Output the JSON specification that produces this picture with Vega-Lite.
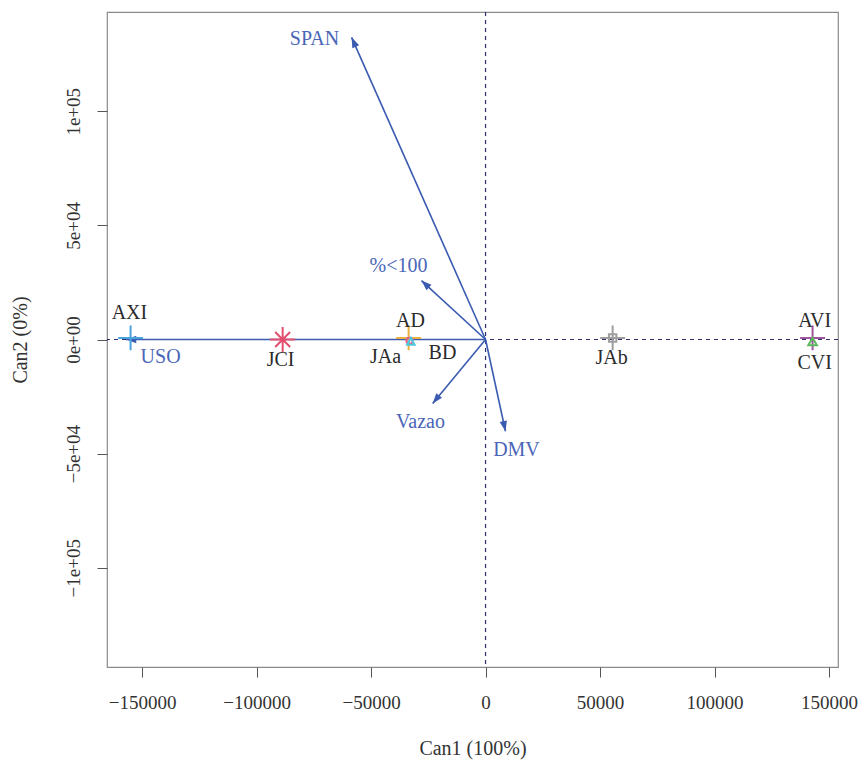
{
  "$schema": "https://vega.github.io/schema/vega-lite/v6.json",
  "width": 731,
  "height": 655,
  "autosize": {"type": "none"},
  "padding": {"left": 107, "top": 12, "right": 20, "bottom": 100},
  "background": "white",
  "config": {
    "font": "Liberation Serif",
    "view": {"stroke": "#8a8a8a", "strokeWidth": 1.2}
  },
  "datasets": {
    "arrows": [
      {"var": "SPAN", "x0": 0, "y0": 0, "x": -58500, "y": 132400},
      {"var": "%<100", "x0": 0, "y0": 0, "x": -28000, "y": 25800},
      {"var": "Vazao", "x0": 0, "y0": 0, "x": -23100, "y": -28000},
      {"var": "DMV", "x0": 0, "y0": 0, "x": 8700, "y": -40200},
      {"var": "USO", "x0": 0, "y0": 0, "x": -157000, "y": 0}
    ],
    "points": [
      {"label": "AXI", "x": -155000, "y": 700},
      {"label": "JCI", "x": -88600, "y": 0},
      {"label": "AD", "x": -33600, "y": 700},
      {"label": "JAa", "x": -33200, "y": -600},
      {"label": "BD", "x": -32600, "y": -900},
      {"label": "JAb", "x": 55500, "y": 700},
      {"label": "AVI", "x": 142800, "y": 700},
      {"label": "CVI", "x": 142800, "y": -1200}
    ],
    "labels": [
      {"text": "AXI", "x": -155500, "y": 11400, "kind": "group"},
      {"text": "USO", "x": -141900, "y": -7500, "kind": "variable"},
      {"text": "JCI", "x": -89500, "y": -9200, "kind": "group"},
      {"text": "AD", "x": -32800, "y": 8300, "kind": "group"},
      {"text": "JAa", "x": -43700, "y": -7500, "kind": "group"},
      {"text": "BD", "x": -18800, "y": -6100, "kind": "group"},
      {"text": "JAb", "x": 55000, "y": -8300, "kind": "group"},
      {"text": "AVI", "x": 143700, "y": 8300, "kind": "group"},
      {"text": "CVI", "x": 143700, "y": -10100, "kind": "group"},
      {"text": "SPAN", "x": -74700, "y": 131600, "kind": "variable"},
      {"text": "%<100", "x": -38000, "y": 32000, "kind": "variable"},
      {"text": "Vazao", "x": -28400, "y": -36000, "kind": "variable"},
      {"text": "DMV", "x": 13500, "y": -48200, "kind": "variable"}
    ]
  },
  "resolve": {"scale": {"color": "independent", "shape": "independent"}},
  "layer": [
    {
      "data": {"values": [{"v": 0}]},
      "mark": {"type": "rule", "color": "#2c2f6e", "strokeDash": [4, 4], "strokeWidth": 1.2},
      "encoding": {
        "x": {
          "field": "v",
          "type": "quantitative",
          "scale": {"domain": [-165300, 153900], "nice": false, "zero": false},
          "axis": {
            "title": "Can1 (100%)",
            "values": [-150000, -100000, -50000, 0, 50000, 100000, 150000],
            "format": "d",
            "grid": false,
            "domain": false,
            "tickSize": 10,
            "tickColor": "#555",
            "labelColor": "#333",
            "labelFontSize": 19,
            "labelPadding": 16,
            "labelOverlap": false,
            "labelFont": "Liberation Serif",
            "titleFont": "Liberation Serif",
            "titleFontSize": 20,
            "titleFontWeight": "normal",
            "titleColor": "#333",
            "titlePadding": 26
          }
        }
      }
    },
    {
      "data": {"values": [{"v": 0}]},
      "mark": {"type": "rule", "color": "#2c2f6e", "strokeDash": [4, 4], "strokeWidth": 1.2},
      "encoding": {
        "y": {
          "field": "v",
          "type": "quantitative",
          "scale": {"domain": [-143500, 143500], "nice": false, "zero": false},
          "axis": {
            "title": "Can2 (0%)",
            "values": [-100000, -50000, 0, 50000, 100000],
            "labelExpr": "datum.value == 100000 ? '1e+05' : datum.value == 50000 ? '5e+04' : datum.value == 0 ? '0e+00' : datum.value == -50000 ? '−5e+04' : '−1e+05'",
            "labelAngle": -90,
            "labelAlign": "center",
            "labelBaseline": "bottom",
            "grid": false,
            "domain": false,
            "tickSize": 10,
            "tickColor": "#555",
            "labelColor": "#333",
            "labelFontSize": 19,
            "labelPadding": 14,
            "labelFont": "Liberation Serif",
            "titleFont": "Liberation Serif",
            "titleFontSize": 20,
            "titleFontWeight": "normal",
            "titleColor": "#333",
            "titlePadding": 34
          }
        }
      }
    },
    {
      "data": {"name": "arrows"},
      "mark": {"type": "rule", "color": "#3a5bb0", "strokeWidth": 1.6},
      "encoding": {
        "x": {"field": "x0", "type": "quantitative"},
        "y": {"field": "y0", "type": "quantitative"},
        "x2": {"field": "x"},
        "y2": {"field": "y"}
      }
    },
    {
      "data": {"name": "arrows"},
      "mark": {
        "type": "point",
        "shape": "M0,0L-0.36,1L0.36,1Z",
        "filled": true,
        "color": "#3a5bb0",
        "opacity": 1,
        "size": 420,
        "angle": {"expr": "atan2(datum.x, datum.y) * 180 / PI"}
      },
      "encoding": {
        "x": {"field": "x", "type": "quantitative"},
        "y": {"field": "y", "type": "quantitative"}
      }
    },
    {
      "data": {"name": "points"},
      "mark": {"type": "point", "filled": false, "strokeWidth": 2, "opacity": 1, "size": 620},
      "encoding": {
        "x": {"field": "x", "type": "quantitative"},
        "y": {"field": "y", "type": "quantitative"},
        "shape": {
          "field": "label",
          "type": "nominal",
          "legend": null,
          "scale": {
            "domain": ["AXI", "JCI", "AD", "JAa", "BD", "JAb", "AVI", "CVI"],
            "range": [
              "M-1,0L1,0M0,-1L0,1",
              "M-1,0L1,0M0,-1L0,1M-0.6,-0.6L0.6,0.6M-0.6,0.6L0.6,-0.6",
              "M-1,0L1,0M0,-1L0,1",
              "M-0.25,0A0.25,0.25 0 1,0 0.25,0A0.25,0.25 0 1,0 -0.25,0",
              "M0,-0.3L0.3,0.25L-0.3,0.25Z",
              "M-1,0L1,0M0,-1L0,1M-0.3,-0.3L0.3,-0.3L0.3,0.3L-0.3,0.3Z",
              "M-1,0L1,0M0,-1L0,1",
              "M0,-0.35L0.35,0.25L-0.35,0.25Z"
            ]
          }
        },
        "color": {
          "field": "label",
          "type": "nominal",
          "legend": null,
          "scale": {
            "domain": ["AXI", "JCI", "AD", "JAa", "BD", "JAb", "AVI", "CVI"],
            "range": ["#4aa3df", "#e34f6f", "#eab03c", "#e0608a", "#4cc8e0", "#9e9e9e", "#a0559f", "#5cb85c"]
          }
        }
      }
    },
    {
      "data": {"name": "labels"},
      "mark": {"type": "text", "fontSize": 20, "font": "Liberation Serif", "align": "center", "baseline": "middle"},
      "encoding": {
        "x": {"field": "x", "type": "quantitative"},
        "y": {"field": "y", "type": "quantitative"},
        "text": {"field": "text"},
        "color": {
          "field": "kind",
          "type": "nominal",
          "legend": null,
          "scale": {"domain": ["group", "variable"], "range": ["#2a2a2a", "#4a66b8"]}
        }
      }
    }
  ]
}
